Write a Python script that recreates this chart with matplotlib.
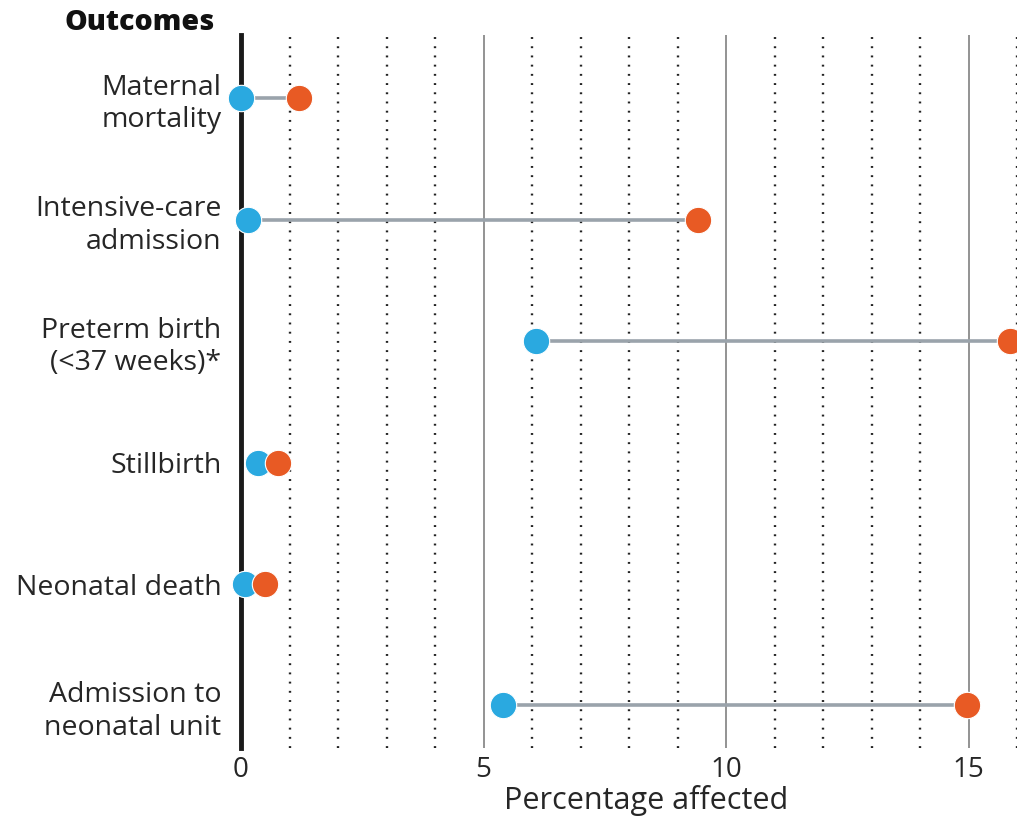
import matplotlib

matplotlib.use("Agg")
import matplotlib.pyplot as plt

outcomes = [
    "Maternal\nmortality",
    "Intensive-care\nadmission",
    "Preterm birth\n(<37 weeks)*",
    "Stillbirth",
    "Neonatal death",
    "Admission to\nneonatal unit",
]
blue_values = [0.0, 0.15, 6.08, 0.35, 0.08, 5.4]
orange_values = [1.2, 9.42, 15.86, 0.76, 0.5, 14.97]
x_ticks = [0, 5, 10, 15]

BLUE = "#2aa9e0"
ORANGE = "#e85a24"
LINE = "#9aa3ab"
TEXT = "#262626"

plt.rcParams["font.family"] = ["Open Sans", "DejaVu Sans"]

fig = plt.figure(figsize=(10.17, 8.21), dpi=100)
ax = fig.add_axes([241 / 1017, (821 - 748) / 821, (1017 - 241) / 1017, (748 - 35) / 821])

rows = list(range(len(outcomes)))

# grid: dotted every unit, solid every 5
for x in range(1, 17):
    if x % 5 == 0:
        ax.axvline(x, color="#8a8a8a", lw=1.3, zorder=1)
    else:
        ax.axvline(x, color="#222222", lw=1.7, linestyle=(0, (0.8, 3.1)), zorder=1)

for y, b, o in zip(rows, blue_values, orange_values):
    ax.plot([b, o], [y, y], color=LINE, lw=2.6, zorder=2, solid_capstyle="butt")

ax.scatter(blue_values, rows, s=19 ** 2, color=BLUE, edgecolor="white", linewidth=0.8,
           zorder=4, clip_on=False)
ax.scatter(orange_values, rows, s=19 ** 2, color=ORANGE, edgecolor="white", linewidth=0.8,
           zorder=5, clip_on=False)

ax.set_xlim(0, 16)
ax.set_ylim(5.35, -0.52)

for side in ["top", "right", "bottom"]:
    ax.spines[side].set_visible(False)
ax.spines["left"].set_linewidth(3.5)
ax.spines["left"].set_color("#1a1a1a")
ax.spines["left"].set_zorder(3)

ax.set_yticks(rows)
ax.set_yticklabels(outcomes, fontsize=20.5, color=TEXT, linespacing=1.22)
ax.set_xticks(x_ticks)
ax.set_xticklabels([str(t) for t in x_ticks], fontsize=20, color=TEXT)
ax.tick_params(length=0, axis="y", pad=14)
ax.tick_params(length=0, axis="x", pad=6)
ax.set_xlabel("Percentage affected", fontsize=22, color=TEXT)
ax.xaxis.set_label_coords(0.522, -0.052)

fig.text(215 / 1017, 1 - 22 / 821, "Outcomes", fontsize=20.5, fontweight="heavy",
         ha="right", va="center", color="#111111")

fig.savefig("out.png", dpi=100)
